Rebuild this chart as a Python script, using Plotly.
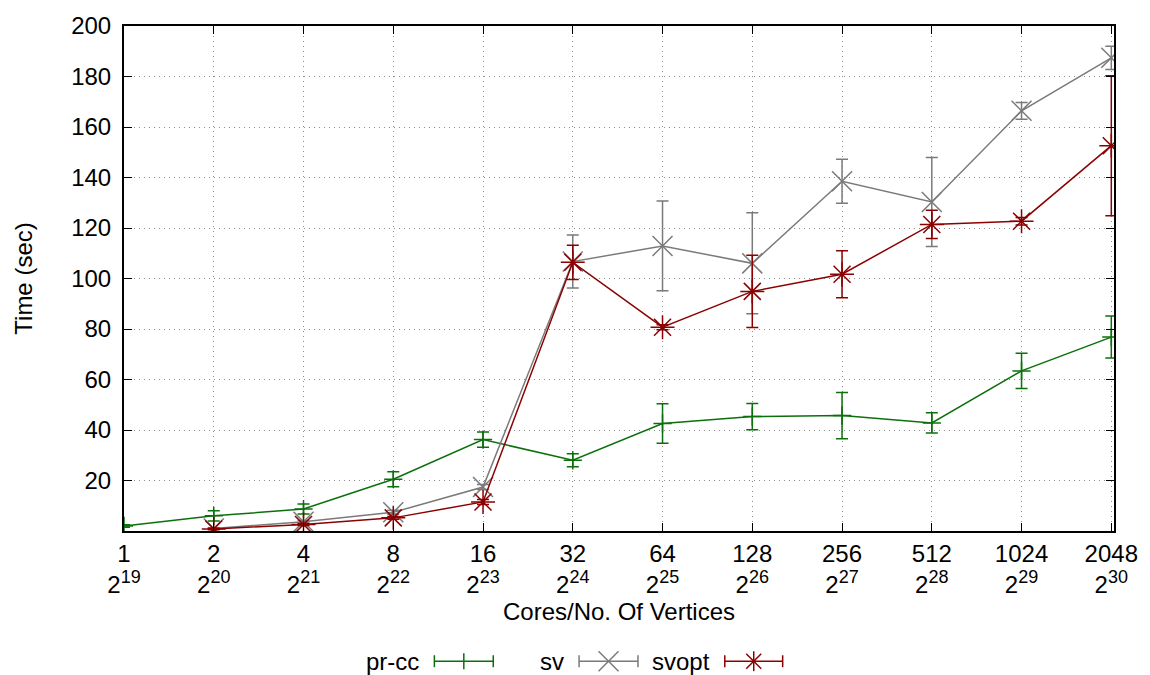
import plotly.graph_objects as go

cores = ["1", "2", "4", "8", "16", "32", "64", "128", "256", "512", "1024", "2048"]
exps = [19, 20, 21, 22, 23, 24, 25, 26, 27, 28, 29, 30]
xidx = list(range(len(cores)))

prcc = [2.0, 6.0, 8.7, 20.5, 36.2, 28.0, 42.6, 45.3, 45.7, 42.8, 63.4, 76.8]
prcc_err = [0.5, 2.0, 2.0, 3.0, 3.0, 2.6, 7.8, 5.2, 9.2, 4.0, 7.0, 8.3]

sv_x = xidx[1:]
sv = [1.0, 3.7, 7.4, 17.4, 106.7, 112.9, 106.0, 138.5, 130.3, 166.4, 187.4]
sv_err = [0.3, 0.5, 0.8, 1.0, 10.5, 17.8, 20.0, 8.7, 17.6, 3.3, 4.6]

svopt_x = xidx[1:]
svopt = [0.8, 2.6, 5.2, 11.5, 106.4, 80.7, 94.9, 101.7, 121.4, 122.7, 152.6]
svopt_err = [0.3, 0.4, 0.5, 1.0, 6.8, 1.0, 14.3, 9.3, 5.6, 1.5, 27.7]

ytick_vals = [20, 40, 60, 80, 100, 120, 140, 160, 180, 200]

GREEN = "#0b700b"
GRAY = "#7a7a7a"
RED = "#8b0000"
FONT = "Liberation Sans, Arial, sans-serif"
FS = 24

fig = go.Figure()

def add_series(x, y, err, color, symbol, size, name):
    fig.add_trace(go.Scatter(
        x=x, y=y, mode="lines+markers", name=name,
        line=dict(color=color, width=1.5),
        marker=dict(symbol=symbol, size=size, color=color,
                    line=dict(color=color, width=1.5)),
        error_y=dict(type="data", array=err, visible=True,
                     color=color, thickness=1.5, width=6),
        showlegend=False,
    ))

add_series(xidx, prcc, prcc_err, GREEN, "cross-thin", 13, "pr-cc")
add_series(sv_x, sv, sv_err, GRAY, "x-thin", 20, "sv")
add_series(svopt_x, svopt, svopt_err, RED, "asterisk", 20, "svopt")

ticktext = [f"{c}<br>2<sup><span style='font-size:18px'>{e}</span></sup>"
            for c, e in zip(cores, exps)]

L, T, R, B = 124, 23, 34, 144
W, H = 1150, 675
PW, PH = W - L - R, H - T - B

def px(x):
    return (x - L) / PW

def py(y):
    return (T + PH - y) / PH

shapes = []
annotations = []
legend_items = [
    ("pr-cc", GREEN, 422, 435, 494, "plus"),
    ("sv", GRAY, 567, 580, 639, "x"),
    ("svopt", RED, 713, 726, 784, "star"),
]
ly = 662
for name, color, tx, x0, x1, kind in legend_items:
    annotations.append(dict(text=name, x=px(tx), y=py(ly), xref="paper", yref="paper",
                            xanchor="right", yanchor="middle", showarrow=False,
                            font=dict(family=FONT, size=FS, color="black")))
    ln = dict(type="line", xref="paper", yref="paper", line=dict(color=color, width=1.5))
    shapes.append({**ln, "x0": px(x0), "x1": px(x1), "y0": py(ly), "y1": py(ly)})
    for xe in (x0, x1):
        shapes.append({**ln, "x0": px(xe), "x1": px(xe), "y0": py(ly - 6), "y1": py(ly + 6)})
    cx = (x0 + x1) / 2
    if kind in ("plus", "star"):
        s = 8 if kind == "plus" else 10
        shapes.append({**ln, "x0": px(cx), "x1": px(cx), "y0": py(ly - s), "y1": py(ly + s)})
    if kind in ("x", "star"):
        s = 10 if kind == "x" else 7.5
        shapes.append({**ln, "x0": px(cx - s), "x1": px(cx + s), "y0": py(ly - s), "y1": py(ly + s)})
        shapes.append({**ln, "x0": px(cx - s), "x1": px(cx + s), "y0": py(ly + s), "y1": py(ly - s)})

GRID = dict(showgrid=True, gridcolor="#8c8c8c", griddash="1px,4px", gridwidth=1)

fig.update_layout(
    width=W, height=H,
    margin=dict(l=L, r=R, t=T, b=B),
    paper_bgcolor="white", plot_bgcolor="white",
    font=dict(family=FONT, size=FS, color="black"),
    shapes=shapes, annotations=annotations,
    xaxis=dict(
        range=[0, 11.03], tickmode="array", tickvals=xidx, ticktext=ticktext,
        tickfont=dict(size=FS),
        showline=True, linecolor="black", linewidth=2, mirror="ticks",
        ticks="inside", ticklen=8, tickcolor="black", tickwidth=1,
        zeroline=False, **GRID,
        title=dict(text="Cores/No. Of Vertices", font=dict(size=FS), standoff=6),
    ),
    yaxis=dict(
        range=[0, 200], tickmode="array", tickvals=ytick_vals,
        tickfont=dict(size=FS), ticklabelstandoff=6,
        showline=True, linecolor="black", linewidth=2, mirror="ticks",
        ticks="inside", ticklen=8, tickcolor="black", tickwidth=1,
        zeroline=False, **GRID,
        title=dict(text="Time (sec)", font=dict(size=FS), standoff=32),
    ),
)

fig.write_html("out.html")
